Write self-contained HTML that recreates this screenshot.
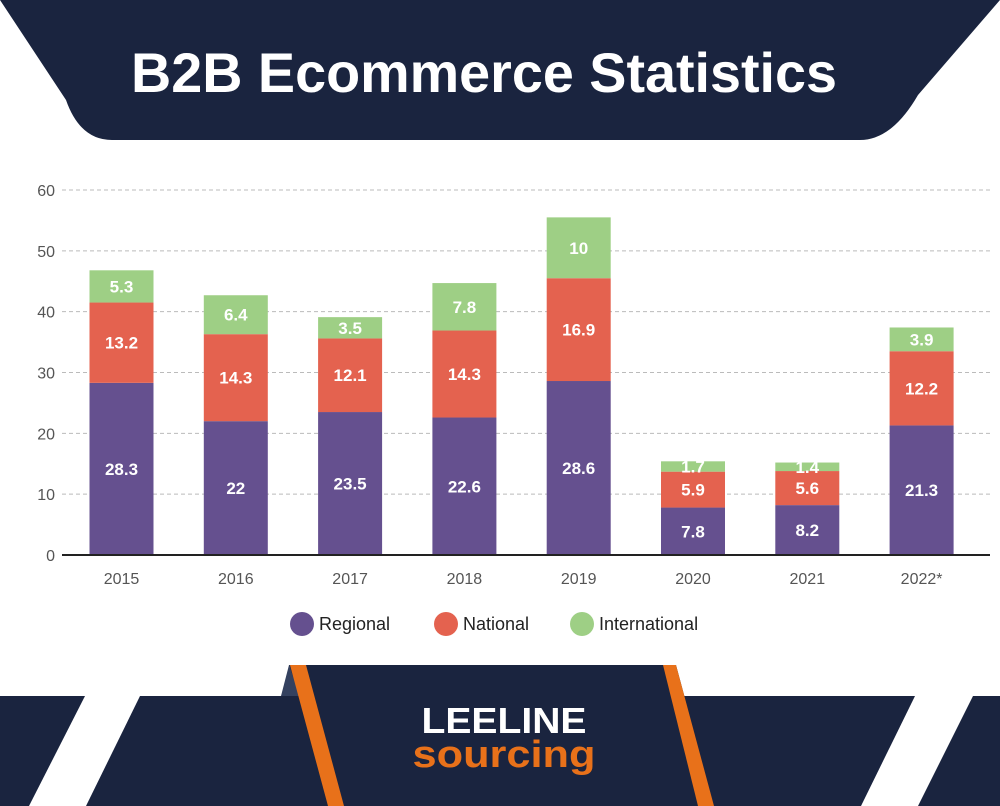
<!DOCTYPE html>
<html><head><meta charset="utf-8"><style>
body{margin:0;background:#fff}
svg{display:block;font-family:"Liberation Sans",Arial,sans-serif}
</style></head><body>
<svg id="c" width="1000" height="806" viewBox="0 0 1000 806">
<path d="M0,0 H1000 L918,95 Q892,140 860,140 H112 Q80,140 66,100 Z" fill="#1a243f"/>
<text x="484" y="92" text-anchor="middle" font-size="56" font-weight="bold" fill="#fff" textLength="706" lengthAdjust="spacingAndGlyphs">B2B Ecommerce Statistics</text>
<g id="grid"></g>
<g id="bars"></g>
<line x1="62" y1="555" x2="990" y2="555" stroke="#222" stroke-width="2"/>
<g id="legend"></g>
<g>
<path d="M0,696 H85 L29,806 H0 Z" fill="#1a243f"/>
<path d="M140,696 H915 L861,806 H86 Z" fill="#1a243f"/>
<path d="M973,696 H1000 V806 H918 Z" fill="#1a243f"/>
<path d="M289,665 H676 L714,806 H328 Z" fill="#1a243f"/>
<path d="M289,665 L281,696 L300,696 Z" fill="#34415f"/>
<path d="M290,665 L306,665 L344,806 L328,806 Z" fill="#e8711a"/>
<path d="M663,665 L676,665 L714,806 L698,806 Z" fill="#e8711a"/>
<text x="504" y="733" text-anchor="middle" font-size="36" font-weight="bold" fill="#fff" textLength="165" lengthAdjust="spacingAndGlyphs">LEELINE</text>
<text x="504" y="767" text-anchor="middle" font-size="38" font-weight="bold" fill="#e8711a" textLength="183" lengthAdjust="spacingAndGlyphs">sourcing</text>
</g>
</svg>
<script>
const categories=["2015","2016","2017","2018","2019","2020","2021","2022*"];
const regional=[28.3,22,23.5,22.6,28.6,7.8,8.2,21.3];
const national=[13.2,14.3,12.1,14.3,16.9,5.9,5.6,12.2];
const international=[5.3,6.4,3.5,7.8,10,1.7,1.4,3.9];
const yTicks=[0,10,20,30,40,50,60];
const seriesNames=["Regional","National","International"];
const colors=["#65508f","#e4624f","#9ecf85"];
const NS="http://www.w3.org/2000/svg";
const y=v=>555-v*(365/60);
const xc=i=>121.5+i*114.3;
const bw=64;
function mk(tag,attrs,parent){const e=document.createElementNS(NS,tag);for(const k in attrs)e.setAttribute(k,attrs[k]);parent.appendChild(e);return e;}
const grid=document.getElementById('grid');
yTicks.forEach(t=>{
  if(t>0){const l=mk('line',{x1:62,x2:990,y1:y(t),y2:y(t),stroke:'#bbb','stroke-dasharray':'4,3'},grid);
  
  }
  const tx=mk('text',{x:55,y:y(t)+6,'text-anchor':'end','font-size':16,fill:'#555'},grid);
  tx.textContent=t;
  
  
});
const bars=document.getElementById('bars');
const series=[regional,national,international];
categories.forEach((c,i)=>{
  let base=0;
  series.forEach((s,k)=>{
    const v=s[i];
    const r=mk('rect',{x:xc(i)-bw/2,y:y(base+v),width:bw,height:y(base)-y(base+v),fill:colors[k]},bars);
    
    
    const t=mk('text',{x:xc(i),y:(y(base)+y(base+v))/2+6,'text-anchor':'middle','font-size':17,'font-weight':'bold',fill:'#fff'},bars);
    t.textContent=v;
    
    
    base+=v;
  });
  const lt=mk('text',{x:xc(i),y:584,'text-anchor':'middle','font-size':16,fill:'#555'},bars);
  lt.textContent=c;
  
  
});
const lg=document.getElementById('legend');
const lx=[302,446,582];
seriesNames.forEach((n,k)=>{
  const g=mk('g',{},lg);
  
  
  mk('circle',{cx:lx[k],cy:624,r:12,fill:colors[k]},g);
  const t=mk('text',{x:lx[k]+17,y:630,'font-size':18,fill:'#222'},g);
  t.textContent=n;
});
</script>
</body></html>
